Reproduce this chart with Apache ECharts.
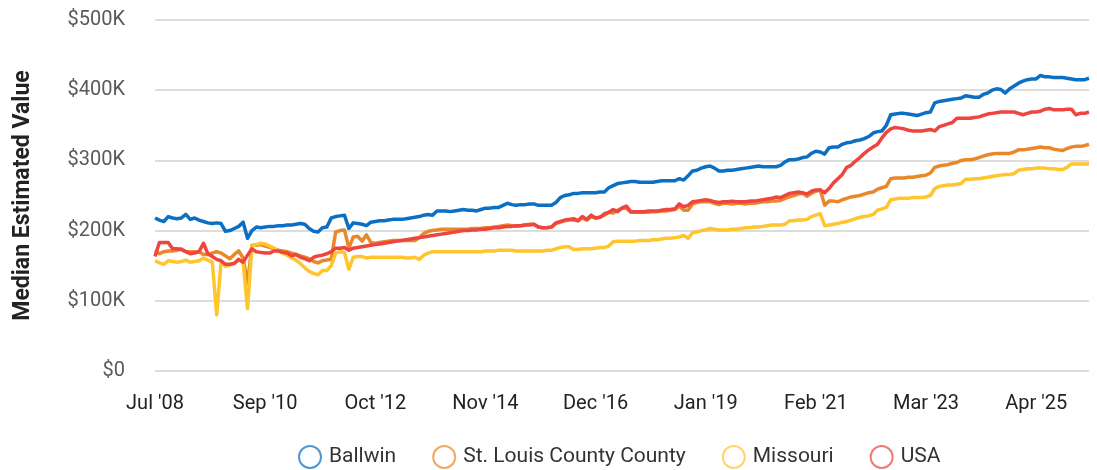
<!DOCTYPE html>
<html>
<head>
<meta charset="utf-8">
<style>
  html, body { margin: 0; padding: 0; background: #ffffff; }
  #chart { width: 1097px; height: 470px; }
</style>
<script src="https://cdn.jsdelivr.net/npm/echarts@6/dist/echarts.min.js"></script>
</head>
<body>
<div id="chart"></div>
<script>
// ---- Data (values in $K), monthly points ----
const SERIES_NAMES = ['Ballwin', 'St. Louis County County', 'Missouri', 'USA'];
const START_YEAR = 2008, START_MONTH = 7;   // Jul '08
const POINT_COUNT = 213;
const SKIPPED_MONTH = '2009-06';             // one month missing in the source series

const ballwin = [
  218,215,213,220,218,217,218,223,216,218,
  215,213,211,210,211,210,199,200,203,206,
  212,189,200,205,204,205,206,206,207,207,
  208,208,209,210,209,203,199,198,204,205,
  218,220,221,222,203,211,210,209,207,212,
  213,214,214,215,216,216,216,217,218,219,
  220,222,223,222,228,228,228,227,228,229,
  230,229,229,228,230,232,232,233,233,236,
  239,237,236,237,237,238,238,236,236,236,
  236,240,247,250,251,253,253,254,254,254,
  254,255,255,261,264,267,268,269,270,270,
  269,269,269,269,270,271,271,271,271,274,
  272,278,285,286,289,291,292,289,285,285,
  286,286,287,288,289,290,291,292,291,291,
  291,291,293,298,301,301,302,304,305,310,
  313,312,309,318,319,319,323,325,326,328,
  329,331,334,339,341,342,350,365,366,367,
  367,366,365,364,366,368,369,382,384,385,
  386,387,388,389,392,391,390,390,394,396,
  400,402,401,396,402,406,410,413,415,416,
  416,421,419,419,418,418,418,417,416,415,
  415,415,417
];

const stLouis = [
  172,167,170,171,171,172,174,170,170,170,
  170,166,166,168,170,168,164,160,166,171,
  161,125,179,179,180,178,176,174,172,171,
  170,168,166,164,162,160,156,154,157,158,
  159,198,200,201,175,191,192,185,194,183,
  182,183,184,185,186,186,186,186,186,186,
  190,196,199,200,201,202,202,202,202,202,
  202,202,203,203,203,204,204,205,206,207,
  208,207,206,207,208,209,209,205,204,204,
  205,210,212,214,215,215,214,218,215,220,
  218,219,222,226,225,229,232,232,226,226,
  226,226,226,227,227,228,228,229,230,235,
  229,229,238,240,241,241,241,239,237,239,
  239,238,239,239,238,239,239,240,241,241,
  242,242,243,246,248,250,252,253,249,253,
  256,258,236,242,242,241,244,246,248,249,
  250,252,254,255,259,261,263,274,275,275,
  275,276,276,277,278,279,282,290,292,293,
  294,296,297,300,301,301,302,304,306,308,
  309,310,310,310,310,312,315,315,316,317,
  318,319,318,318,316,315,314,317,319,320,
  320,321,323
];

const missouri = [
  157,154,152,157,156,155,156,158,155,156,
  157,161,158,155,80,156,149,151,154,158,
  155,89,178,180,182,181,178,175,171,168,
  165,161,158,153,147,142,139,137,143,143,
  150,168,170,169,145,162,163,163,161,162,
  162,162,162,162,162,162,162,161,161,162,
  159,165,168,170,170,170,170,170,170,170,
  170,170,170,170,170,171,171,171,172,172,
  172,172,171,171,171,171,171,171,171,172,
  172,174,176,177,177,173,173,174,174,174,
  175,176,176,178,184,185,185,185,185,185,
  186,186,186,187,187,188,189,189,190,191,
  193,189,197,198,200,201,203,202,201,201,
  201,202,202,203,204,204,205,205,206,207,
  208,208,208,209,214,214,215,215,216,220,
  222,224,207,208,209,210,212,213,215,217,
  219,220,221,223,229,231,233,244,245,246,
  246,246,247,247,247,248,250,260,263,264,
  265,265,266,267,273,273,274,274,275,276,
  277,278,279,280,280,281,286,287,288,288,
  289,289,289,288,288,287,287,290,295,295,
  295,295,295
];

const usa = [
  163,183,183,183,174,174,173,170,167,168,
  170,182,167,163,159,157,152,152,153,159,
  155,165,174,170,169,168,168,171,171,169,
  168,164,166,162,160,157,162,164,165,167,
  170,175,175,176,172,175,176,177,178,179,
  180,181,182,183,184,185,186,187,188,189,
  190,191,192,193,194,195,196,197,198,199,
  200,200,201,201,202,202,203,204,204,205,
  206,206,207,207,208,208,209,205,204,204,
  205,211,213,215,216,217,214,220,216,222,
  218,219,224,226,230,227,232,235,227,227,
  227,227,228,228,228,229,230,230,231,238,
  234,236,241,242,243,244,243,241,240,241,
  241,242,241,241,241,242,242,243,244,245,
  246,248,247,250,253,254,255,254,252,256,
  258,258,254,260,268,274,280,290,293,299,
  304,310,315,319,323,332,340,345,347,346,
  345,343,342,342,342,343,344,342,348,350,
  352,354,360,360,360,360,361,362,364,366,
  367,368,369,369,369,369,367,365,367,369,
  369,370,373,374,372,372,372,373,373,365,
  367,367,369
];

const Y_TICKS = [0, 100, 200, 300, 400, 500];   // $K
const X_LABEL_STEP = 25;                         // one label every 25 points

// ---- Build month categories ----
const MONTH_ABBR = ['Jan','Feb','Mar','Apr','May','Jun','Jul','Aug','Sep','Oct','Nov','Dec'];
const categories = [];
{
  let y = START_YEAR, m = START_MONTH;
  while (categories.length < POINT_COUNT) {
    const key = y + '-' + String(m).padStart(2, '0');
    if (key !== SKIPPED_MONTH) {
      categories.push(MONTH_ABBR[m - 1] + " '" + String(y).slice(2));
    }
    m++; if (m > 12) { m = 1; y++; }
  }
}

const COLORS = ['#0b6fc4', '#e8882a', '#ffc52c', '#ee4540'];
const LEGEND_COLORS = ['rgba(11,111,196,0.72)', 'rgba(232,136,42,0.72)', 'rgba(255,197,44,0.72)', 'rgba(238,69,64,0.72)'];
const seriesData = [ballwin, stLouis, missouri, usa];

const FONT = 'Roboto, "Noto Sans", sans-serif';

const chart = echarts.init(document.getElementById('chart'), null, { renderer: 'canvas' });
chart.setOption({
  animation: false,
  backgroundColor: '#ffffff',
  textStyle: { fontFamily: FONT },
  grid: { left: 155, right: 8, top: 20, bottom: 99, containLabel: false, outerBoundsMode: 'none' },
  legend: {
    left: 293, top: 440,
    icon: 'circle',
    itemWidth: 22, itemHeight: 22,
    itemGap: 36,
    textStyle: { fontSize: 21, color: '#333333', fontFamily: FONT, padding: [0, 0, 0, 3] },
    itemStyle: { color: 'transparent', borderWidth: 2 },
    data: SERIES_NAMES.map((n, i) => ({ name: n, itemStyle: { color: 'transparent', borderColor: LEGEND_COLORS[i], borderWidth: 2 } }))
  },
  xAxis: {
    type: 'category',
    boundaryGap: false,
    data: categories,
    axisLine: { show: false },
    axisTick: { show: false },
    splitLine: { show: false },
    axisLabel: {
      interval: X_LABEL_STEP - 1,
      color: '#222222',
      fontSize: 20,
      fontFamily: FONT,
      margin: 23,
      hideOverlap: false
    }
  },
  yAxis: {
    type: 'value',
    min: Y_TICKS[0],
    max: Y_TICKS[Y_TICKS.length - 1],
    interval: Y_TICKS[1] - Y_TICKS[0],
    name: 'Median Estimated Value',
    nameLocation: 'middle',
    nameGap: 120,
    nameTextStyle: { fontSize: 23, fontWeight: 'bold', color: '#222222', fontFamily: FONT },
    axisLine: { show: false },
    axisTick: { show: false },
    splitLine: { lineStyle: { color: '#d2d2d2', width: 1.5 } },
    axisLabel: {
      color: '#5a5a5a',
      fontSize: 20,
      fontFamily: FONT,
      margin: 30,
      formatter: v => v === 0 ? '$0' : '$' + v + 'K'
    }
  },
  series: SERIES_NAMES.map((n, i) => ({
    name: n,
    type: 'line',
    data: seriesData[i],
    showSymbol: false,
    symbol: 'none',
    color: COLORS[i],
    lineStyle: { color: COLORS[i], width: 3.5, join: 'round' },
    emphasis: { disabled: true }
  }))
});
</script>
</body>
</html>
